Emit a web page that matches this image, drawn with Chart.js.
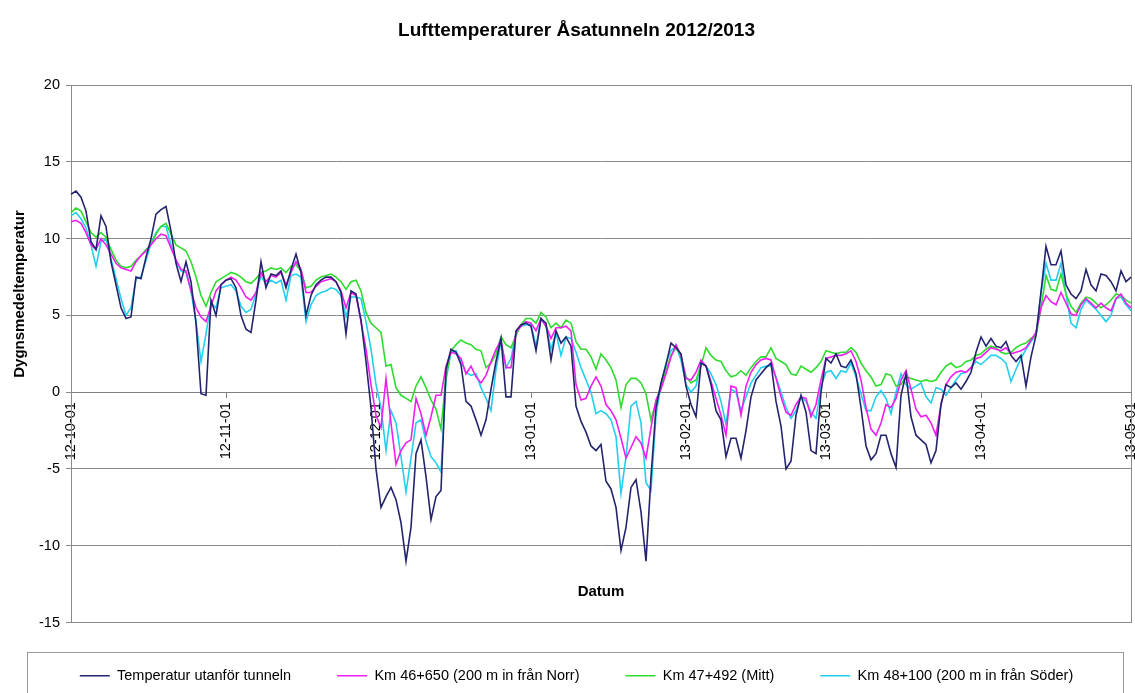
<!DOCTYPE html>
<html>
<head>
<meta charset="utf-8">
<title>Lufttemperaturer Åsatunneln 2012/2013</title>
<script src="https://cdn.jsdelivr.net/npm/chart.js@4/dist/chart.umd.min.js"></script>
<style>
  html, body { margin: 0; padding: 0; background: #fff; }
  canvas { display: block; }
</style>
</head>
<body>
<canvas id="chart" width="1135" height="693"></canvas>
<script>
// Månader (första dagen) och antal dagar per månad
var monthLabels = ["12-10-01", "12-11-01", "12-12-01", "13-01-01", "13-02-01", "13-03-01", "13-04-01", "13-05-01"];
var monthLengths = [31, 30, 31, 31, 28, 31, 30, 1];

// Dygnsmedeltemperatur per dag, 2012-10-01 .. 2013-05-01
var utanfor = [
  12.9, 13.1, 12.7, 11.8, 9.8, 9.3, 11.5, 10.8, 8.5, 7.0, 5.5, 4.8, 4.9, 7.5, 7.4, 8.8, 10.0, 11.6, 11.9, 12.1, 10.5, 8.4, 7.2, 8.5, 7.2, 4.5, -0.1, -0.2, 6.0, 5.0, 7.0,
  7.3, 7.4, 6.8, 5.0, 4.1, 3.9, 6.0, 8.5, 6.8, 7.7, 7.6, 7.9, 6.8, 8.0, 9.0, 7.8, 5.0, 6.3, 7.0, 7.3, 7.5, 7.5, 7.2, 6.5, 3.8, 6.6, 6.4, 4.7, 2.0, -1.0,
  -5.0, -7.5, -6.8, -6.2, -7.0, -8.5, -11.0, -8.8, -4.0, -3.1, -5.5, -8.3, -6.8, -6.4, 1.5, 2.8, 2.6, 1.8, -0.6, -0.9, -1.8, -2.8, -1.8, 0.2, 2.0, 3.5, -0.3, -0.3, 4.0, 4.4, 4.5,
  4.3, 2.7, 4.8, 4.5, 2.1, 4.0, 3.2, 3.6, 3.0, -0.9, -1.9, -2.6, -3.5, -3.8, -3.4, -5.8, -6.3, -7.5, -10.3, -8.8, -6.2, -5.7, -7.8, -11.0, -5.5, -1.0, 0.6, 1.8, 3.2, 2.9, 2.5,
  0.4, -0.8, -1.6, 1.9, 1.7, 0.5, -1.2, -1.8, -4.2, -3.0, -3.0, -4.3, -2.5, -0.3, 0.8, 1.2, 1.6, 1.9, -0.6, -2.2, -5.0, -4.5, -1.5, -0.2, -1.3, -3.8, -4.0, 0.0,
  2.2, 1.9, 2.5, 1.7, 1.6, 2.1, 1.2, -1.0, -3.5, -4.4, -4.0, -2.8, -2.8, -4.0, -4.9, -0.2, 1.2, -1.6, -2.8, -3.1, -3.4, -4.6, -3.8, -0.8, 0.5, 0.3, 0.6, 0.2, 0.7, 1.3, 2.6,
  3.6, 3.0, 3.5, 3.0, 2.9, 3.3, 2.4, 2.0, 2.4, 0.4, 2.3, 3.7, 6.5, 9.5, 8.3, 8.3, 9.2, 7.0, 6.4, 6.1, 6.6, 8.0, 7.0, 6.6, 7.7, 7.6, 7.2, 6.6, 7.9, 7.2,
  7.5
];
var km46650 = [
  11.1, 11.2, 11.0, 10.4, 9.6, 9.3, 10.0, 9.6, 9.0, 8.4, 8.1, 8.0, 7.9, 8.5, 8.9, 9.2, 9.6, 10.0, 10.3, 10.2, 9.4, 8.6, 8.0, 7.9, 6.6, 5.5, 4.9, 4.6, 5.6, 6.6, 7.0,
  7.3, 7.5, 7.3, 6.8, 6.2, 6.0, 6.5, 7.8, 7.2, 7.6, 7.5, 7.8, 7.0, 7.8, 8.5, 8.0, 6.5, 6.5, 6.9, 7.2, 7.3, 7.4, 7.2, 6.6, 5.5, 6.5, 6.3, 4.6, 2.8, 0.5,
  -1.5, -2.3, 0.9, -2.0, -4.7, -3.8, -3.3, -3.1, -0.4, -1.4, -2.8, -1.6, -0.2, -0.2, 1.7, 2.6, 2.5, 2.2, 1.2, 1.7, 1.0, 0.6, 1.1, 2.0, 2.8, 3.4, 1.6, 1.6, 3.9, 4.3, 4.6,
  4.5, 4.0, 4.8, 4.3, 3.5, 4.2, 4.2, 4.3, 4.0, 0.5, -0.5, -0.4, 0.4, 1.0, 0.4, -0.8, -1.2, -1.8, -3.0, -4.3, -3.6, -2.9, -3.3, -4.3, -2.3, -0.5, 0.2, 1.2, 2.3, 3.1, 2.4,
  0.9, 0.8, 1.3, 2.1, 1.7, 0.7, -0.4, -1.5, -2.8, 0.4, 0.3, -1.5, 0.4, 1.3, 1.8, 2.1, 2.2, 2.1, 0.9, -0.3, -1.3, -1.5, -0.8, -0.3, -0.4, -1.6, -0.8, 0.8,
  2.2, 2.3, 2.4, 2.4, 2.5, 2.7, 2.0, 0.8, -1.0, -2.4, -2.8, -2.0, -0.8, -1.0, -0.4, 0.8, 1.4, 0.2, -1.1, -1.6, -1.5, -2.0, -2.8, -0.8, 0.5, 1.0, 1.3, 1.4, 1.3, 1.6, 2.2,
  2.3, 2.6, 2.9, 2.8, 2.7, 2.9, 2.5, 2.6, 2.7, 2.9, 3.4, 3.9, 5.5, 6.3, 5.9, 5.7, 6.5, 5.8, 5.1, 5.0, 5.7, 6.1, 5.8, 5.5, 5.8, 5.5, 5.3, 6.1, 6.4, 5.8,
  5.5
];
var km47492 = [
  11.7, 12.0, 11.8, 11.1, 10.4, 10.1, 10.4, 10.1, 9.3, 8.6, 8.2, 8.1, 8.2, 8.6, 8.9, 9.3, 9.6, 10.3, 10.8, 11.0, 10.3, 9.6, 9.4, 9.2, 8.5, 7.5, 6.3, 5.6, 6.5, 7.2, 7.4,
  7.6, 7.8, 7.7, 7.5, 7.2, 7.1, 7.4, 7.8, 7.9, 8.1, 8.0, 8.1, 7.8, 8.2, 8.3, 7.9, 6.8, 6.9, 7.3, 7.5, 7.6, 7.7, 7.5, 7.2, 6.7, 7.2, 7.3, 6.6, 5.2, 4.5,
  4.2, 3.9, 1.7, 1.8, 0.3, -0.2, -0.4, -0.6, 0.4, 1.0, 0.3, -0.5, -1.1, -2.4, 1.0, 2.7, 3.1, 3.4, 3.2, 3.1, 2.8, 2.7, 1.6, 1.9, 2.5, 3.6, 3.1, 2.9, 3.7, 4.4, 4.8,
  4.8, 4.5, 5.2, 4.9, 4.2, 4.5, 4.2, 4.7, 4.5, 3.3, 2.8, 2.8, 2.3, 1.5, 2.5, 2.1, 1.6, 0.8, -1.0, 0.5, 0.9, 0.9, 0.6, -0.1, -1.8, -0.6, 0.4, 1.4, 2.4, 2.9, 2.4,
  1.0, 0.6, 0.8, 1.7, 2.9, 2.4, 2.1, 2.0, 1.4, 1.0, 1.1, 1.4, 1.1, 1.6, 2.0, 2.3, 2.3, 2.9, 2.2, 2.0, 1.8, 1.2, 1.1, 1.7, 1.5, 1.3, 1.6, 2.0,
  2.7, 2.6, 2.5, 2.6, 2.6, 2.9, 2.6, 1.9, 1.4, 1.0, 0.4, 0.5, 1.2, 1.1, 0.4, 0.5, 1.0, 0.9, 0.8, 0.7, 0.8, 0.7, 0.8, 1.3, 1.7, 1.9, 1.6, 1.7, 2.0, 2.1, 2.4,
  2.5, 2.8, 3.0, 2.9, 2.6, 2.5, 2.6, 2.9, 3.1, 3.2, 3.5, 3.7, 5.5, 7.6, 6.7, 6.6, 7.7, 6.4, 5.6, 5.2, 5.8, 6.2, 6.1, 5.8, 5.5, 5.7, 6.0, 6.4, 6.3, 6.0,
  5.8
];
var km48100 = [
  11.5, 11.7, 11.3, 10.7, 9.6, 8.2, 9.8, 10.0, 8.7, 7.4, 6.1, 5.0, 5.5, 7.4, 7.5, 8.6, 9.7, 10.4, 10.8, 10.8, 9.6, 8.6, 7.9, 7.8, 6.6, 4.6, 2.0, 3.8, 5.8, 5.5, 6.8,
  6.9, 7.0, 6.6, 5.6, 5.2, 5.4, 6.4, 7.6, 7.0, 7.3, 7.1, 7.3, 6.0, 7.6, 7.7, 7.5, 4.6, 5.7, 6.3, 6.5, 6.6, 6.8, 6.7, 6.3, 4.9, 6.2, 6.2, 6.1, 4.6, 2.8,
  0.5, -1.0, -3.8, -1.2, -2.0, -4.2, -6.5, -4.3, -2.0, -1.8, -3.2, -4.2, -4.6, -5.2, 0.8, 2.6, 2.7, 2.0, 1.3, 1.1, 1.2, 0.3, -0.4, -1.2, 1.5, 3.3, 1.6, 2.2, 3.9, 4.3, 4.4,
  4.4, 3.0, 4.8, 4.3, 2.8, 3.9, 2.4, 3.6, 3.5, 2.6, 1.6, 0.8, 0.0, -1.4, -1.2, -1.4, -1.8, -2.9, -6.6, -4.2, -0.9, -0.6, -2.0, -5.9, -6.4, -1.5, 0.5, 1.9, 2.7, 3.0, 2.1,
  0.5, 0.0, 0.4, 2.0, 1.7, 1.2, 0.5, -0.6, -2.1, 0.2, 0.0, -1.2, -0.3, 0.6, 1.1, 1.6, 1.7, 1.7, 1.0, 0.0, -1.0, -1.7, -1.2, -0.3, -0.6, -1.3, -1.7, 0.4,
  1.3, 1.4, 0.9, 1.4, 1.3, 1.9, 1.0, -0.1, -1.2, -1.2, -0.3, 0.1, -0.4, -1.4, 0.0, 1.2, 0.5, 0.2, 0.4, 0.6, -0.3, -0.7, 0.3, 0.2, -0.2, 0.3, 0.8, 1.2, 1.3, 1.6, 2.0,
  1.8, 2.1, 2.4, 2.4, 2.2, 1.9, 0.7, 1.5, 2.2, 2.8, 3.3, 3.7, 6.5, 8.4, 7.3, 7.3, 8.4, 6.4, 4.5, 4.2, 5.4, 6.0, 5.7, 5.4, 5.0, 4.6, 5.0, 6.1, 6.2, 5.7,
  5.3
];

var seriesNames = [
  "Temperatur utanför tunneln",
  "Km 46+650 (200 m in från Norr)",
  "Km 47+492 (Mitt)",
  "Km 48+100 (200 m in från Söder)"
];
var seriesColors = ["#24246e", "#f01ef0", "#2edc2e", "#22d0ee"];

// Bygg dagsetiketter (yy-mm-dd) från månadslistan
var dagar = [];
monthLabels.forEach(function(m, i) {
  var prefix = m.slice(0, 6);
  for (var d = 1; d <= monthLengths[i]; d++) {
    dagar.push(prefix + (d < 10 ? "0" + d : d));
  }
});

var fontFamily = "'Liberation Sans', Arial, sans-serif";
Chart.defaults.font.family = fontFamily;
Chart.defaults.font.size = 14.5;
Chart.defaults.color = "#000";

// Ram runt diagramytan, axeltitlar och ram runt förklaringen
var ramPlugin = {
  id: "ram",
  beforeDatasetsDraw: function(chart) {
    var a = chart.chartArea, ctx = chart.ctx;
    ctx.save();
    ctx.strokeStyle = "#8a8a8a";
    ctx.lineWidth = 1;
    ctx.strokeRect(Math.round(a.left) + 0.5, Math.round(a.top) + 0.5,
      Math.round(a.right - a.left), Math.round(a.bottom - a.top));
    ctx.restore();
  },
  afterDraw: function(chart) {
    var a = chart.chartArea, ctx = chart.ctx;
    ctx.save();
    ctx.fillStyle = "#000";
    ctx.font = "bold 15px " + fontFamily;
    ctx.textAlign = "center";
    ctx.textBaseline = "middle";
    ctx.fillText("Datum", (a.left + a.right) / 2, a.bottom - 31);
    ctx.translate(20, 294);
    ctx.rotate(-Math.PI / 2);
    ctx.fillText("Dygnsmedeltemperatur", 0, 0);
    ctx.restore();

    var lg = chart.legend;
    ctx.save();
    ctx.strokeStyle = "#9a9a9a";
    ctx.lineWidth = 1;
    ctx.strokeRect(27.5, Math.round(lg.top) + 29.5, chart.width - 39, 80);
    ctx.restore();
  }
};

var datasets = [utanfor, km46650, km47492, km48100].map(function(values, i) {
  return {
    label: seriesNames[i],
    data: values,
    borderColor: seriesColors[i],
    backgroundColor: seriesColors[i],
    borderWidth: 1.6,
    pointRadius: 0,
    tension: 0,
    fill: false
  };
});

var ctx = document.getElementById("chart").getContext("2d");
var chart = new Chart(ctx, {
  type: "line",
  data: { labels: dagar, datasets: datasets },
  options: {
    responsive: false,
    animation: false,
    devicePixelRatio: 1,
    layout: { padding: { left: 22, right: 4, top: 0, bottom: 0 } },
    plugins: {
      title: {
        display: true,
        text: "Lufttemperaturer Åsatunneln 2012/2013",
        font: { size: 19, weight: "bold" },
        color: "#000",
        padding: { top: 19, bottom: 43.4 }
      },
      legend: {
        position: "bottom",
        labels: {
          usePointStyle: true,
          pointStyle: "line",
          pointStyleWidth: 30,
          padding: 46,
          color: "#000",
          font: { size: 14.5 }
        }
      },
      tooltip: { enabled: false }
    },
    scales: {
      x: {
        type: "category",
        position: { y: 0 },
        grid: {
          drawOnChartArea: false,
          drawTicks: true,
          tickLength: 5,
          color: "#808080"
        },
        border: { display: true, color: "#808080" },
        ticks: {
          autoSkip: false,
          minRotation: 90,
          maxRotation: 90,
          padding: 5,
          font: { size: 14.5 },
          callback: function(value, index) {
            var lbl = dagar[index];
            return monthLabels.indexOf(lbl) >= 0 ? lbl : null;
          }
        },
        afterFit: function(scale) {
          scale.paddingLeft = 0;
          scale.paddingRight = 0;
        }
      },
      y: {
        min: -15,
        max: 20,
        ticks: { stepSize: 5, padding: 6, font: { size: 14.5 } },
        grid: { color: "#8a8a8a", tickLength: 5 },
        border: { display: true, color: "#808080" },
        afterFit: function(scale) { scale.width = 49; }
      }
    }
  },
  plugins: [ramPlugin]
});
</script>
</body>
</html>
